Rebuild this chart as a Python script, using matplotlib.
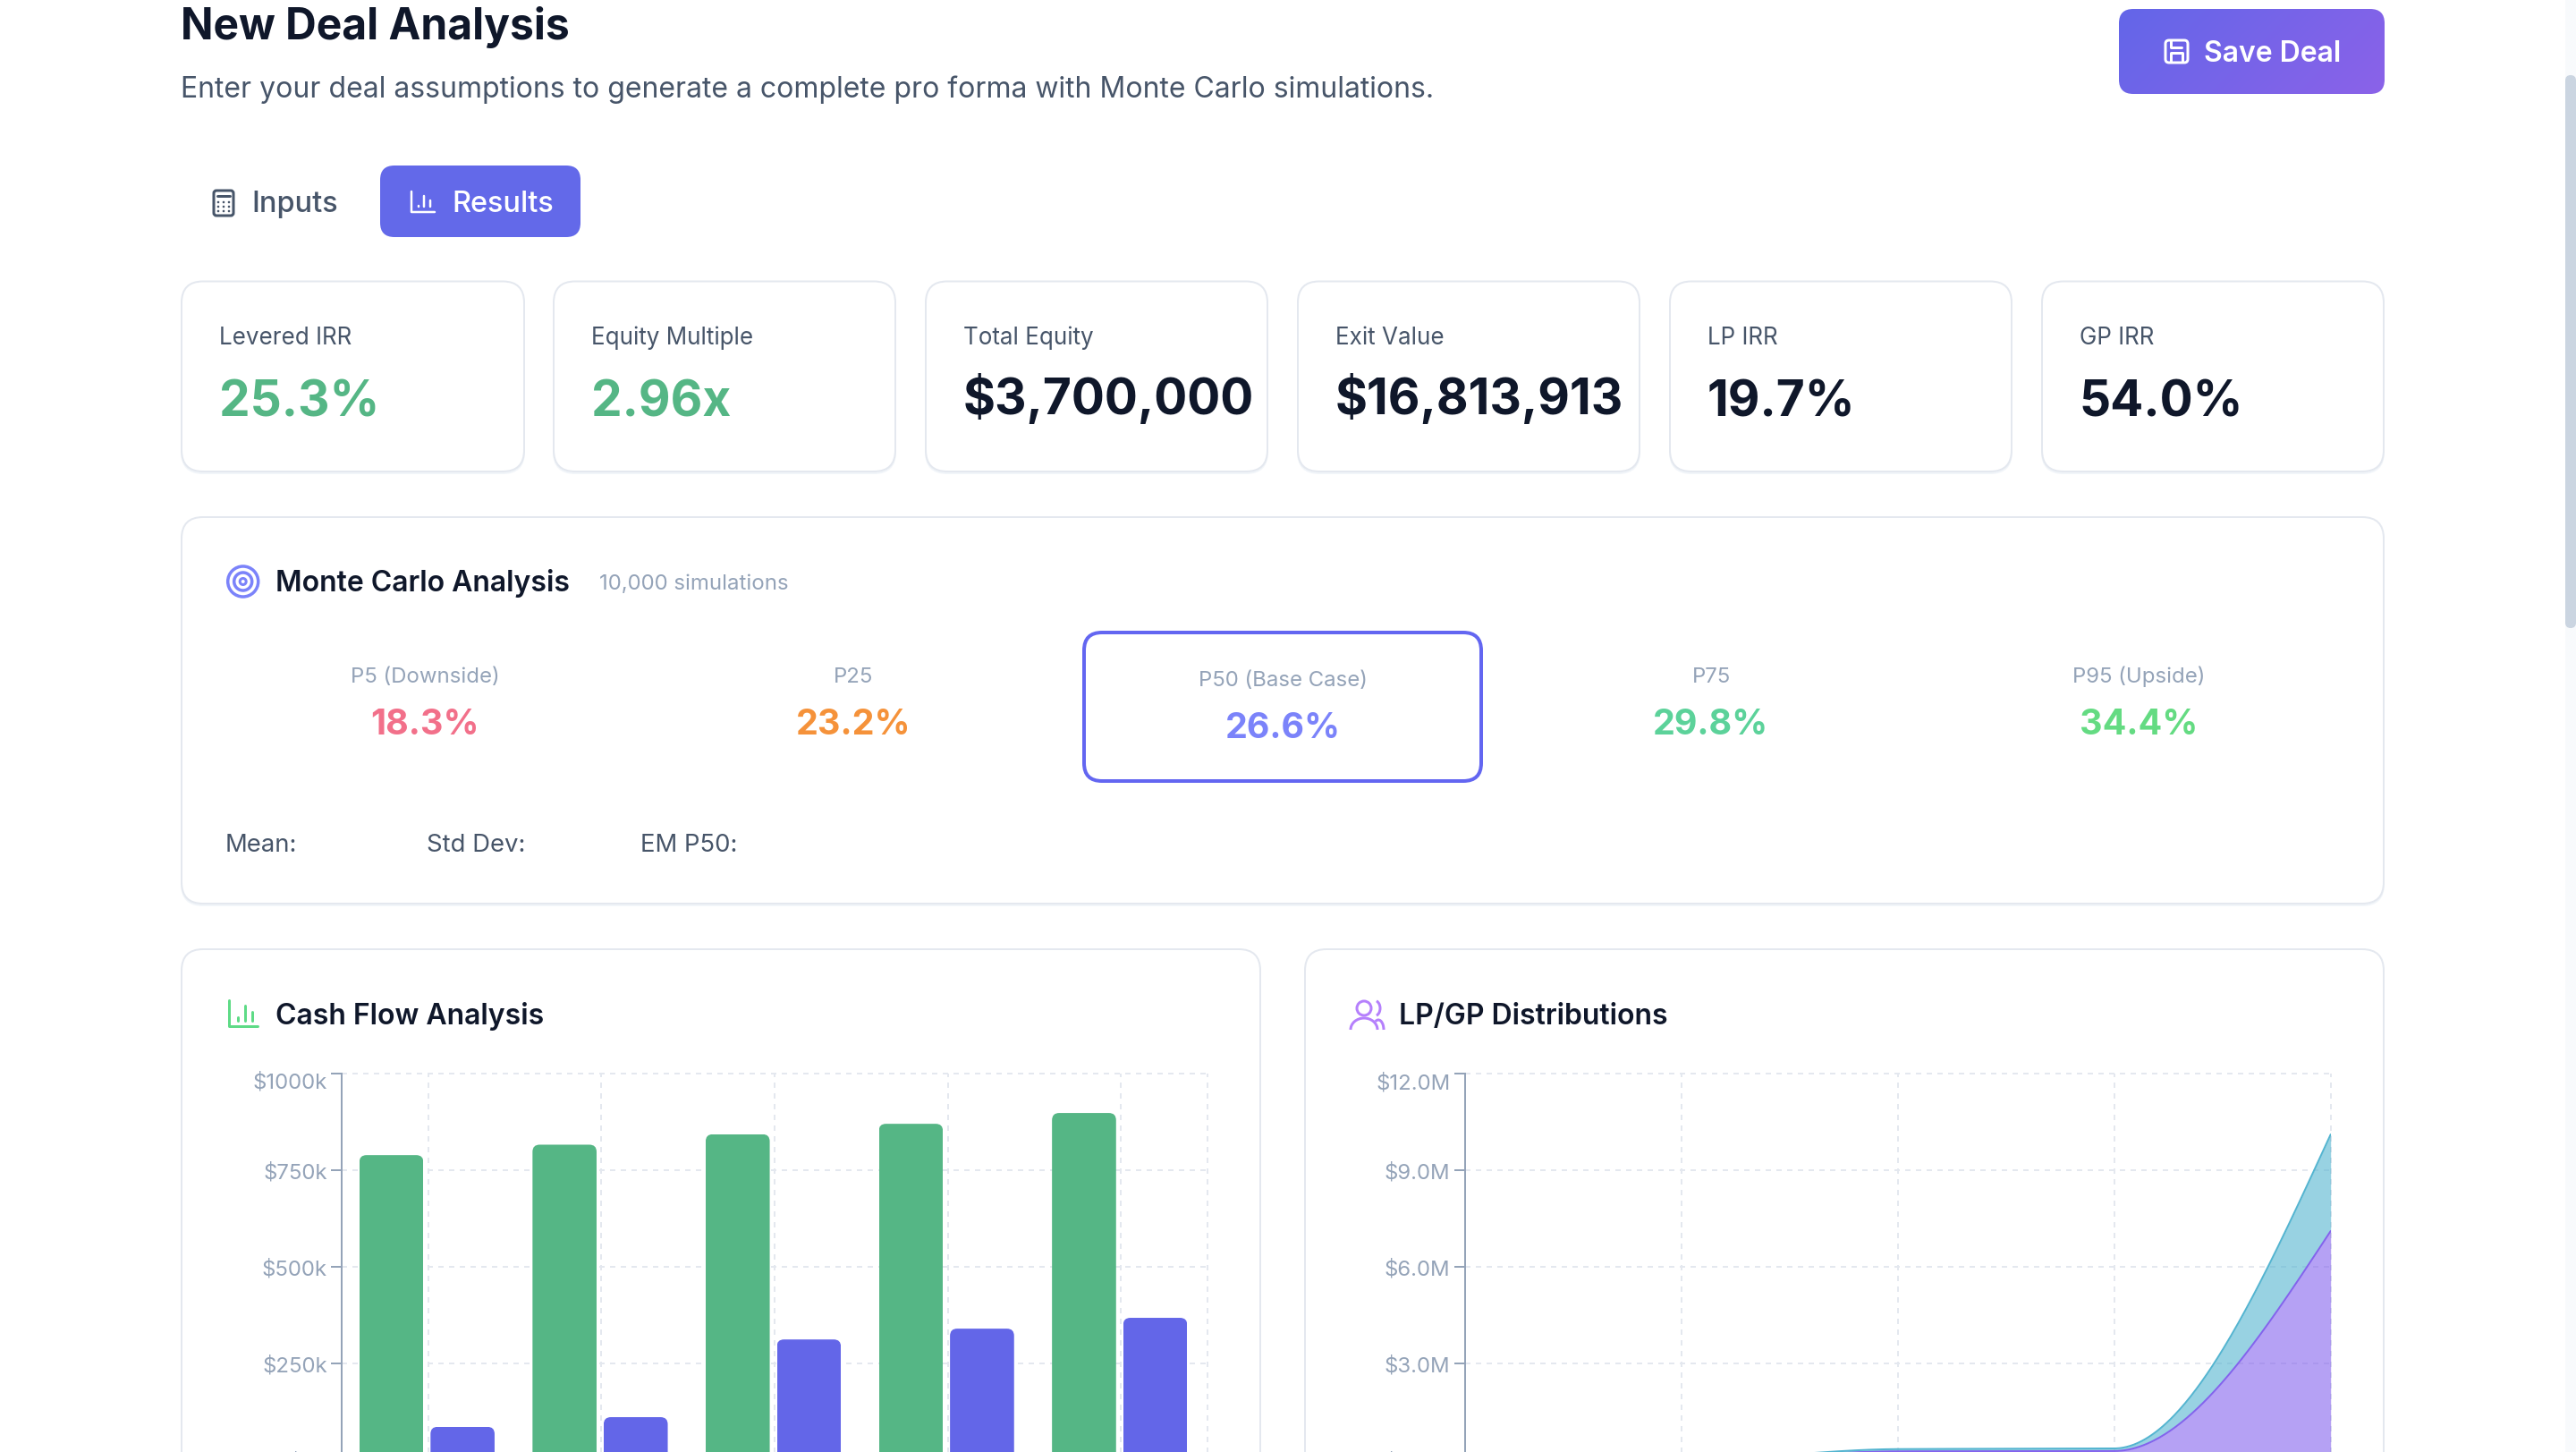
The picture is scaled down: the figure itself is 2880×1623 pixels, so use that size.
import numpy as np
import matplotlib
matplotlib.use('Agg')
import matplotlib.pyplot as plt
from matplotlib.patches import FancyBboxPatch, Circle, Rectangle, Arc
from matplotlib.path import Path
from matplotlib.transforms import ScaledTranslation

plt.rcParams['font.family'] = ['Inter', 'DejaVu Sans']
plt.rcParams['lines.scale_dashes'] = False
plt.rcParams['lines.solid_capstyle'] = 'round'

# kpi cards
kpi_labels = ['Levered IRR', 'Equity Multiple', 'Total Equity', 'Exit Value', 'LP IRR', 'GP IRR']
kpi_values = ['25.3%', '2.96x', '$3,700,000', '$16,813,913', '19.7%', '54.0%']
kpi_colors = ['#55b685', '#55b685', '#0f172a', '#0f172a', '#0f172a', '#0f172a']

# monte carlo
mc_labels = ['P5 (Downside)', 'P25', 'P50 (Base Case)', 'P75', 'P95 (Upside)']
mc_values = ['18.3%', '23.2%', '26.6%', '29.8%', '34.4%']
mc_colors = ['#f2708a', '#f5923a', '#7b83fa', '#5cd29a', '#64db82']
mc_stats = ['Mean:', 'Std Dev:', 'EM P50:']

# cash flow chart, $k
years = [1, 2, 3, 4, 5]
noi = [789, 816, 843, 870, 898]
cash_flow = [86, 111, 312, 340, 368]
cf_ticks = [0, 250, 500, 750, 1000]
cf_tick_labels = ['$0k', '$250k', '$500k', '$750k', '$1000k']

# lp/gp chart, $M
dist_years = [0, 1, 2, 3, 4]
lp_dist = [0, 0, 0.27, 0.28, 7.11]
gp_dist = [0, 0, 0.07, 0.08, 3.0]
dist_ticks = [0, 3, 6, 9, 12]
dist_tick_labels = ['$0.0M', '$3.0M', '$6.0M', '$9.0M', '$12.0M']

W, H = 2880, 1624
PT = 0.72  # px to pt at dpi 100
SLATE = '#94a3b8'
DARK = '#0f172a'
MID = '#475569'
BORDER = '#e4e8ef'
INDIGO = '#6369e9'

fig = plt.figure(figsize=(W / 100, H / 100), dpi=100, facecolor='white')
page = fig.add_axes([0, 0, 1, 1], zorder=0)
page.set_xlim(0, W)
page.set_ylim(H, 0)
page.axis('off')


def txt(x, y, s, px, color, weight='normal', ha='left'):
    page.text(x, y, s, fontsize=px * PT, color=color, fontweight=weight, ha=ha, va='baseline')


def box(x0, y0, x1, y1, r, fc='white', ec=BORDER, lw=2, z=1):
    p = FancyBboxPatch((x0, y0), x1 - x0, y1 - y0, boxstyle=f'round,pad=0,rounding_size={r}',
                       fc=fc, ec=ec, lw=lw * PT, zorder=z)
    page.add_patch(p)
    return p


def card(x0, y0, x1, y1):
    # faint shadow then the card
    box(x0, y0 + 2, x1, y1 + 2, 24, fc='#f1f5f9', ec='#f1f5f9', lw=2, z=1)
    box(x0, y0, x1, y1, 24, z=2)


def line(xs, ys, color, lw=3, z=5):
    page.plot(xs, ys, color=color, lw=lw * PT, zorder=z)


def bar_icon(x0, y0, x1, y1, color, lw=3):
    line([x0, x0, x1, x1], [y0, y1 - 3, y1 - 3, y1 - 3], color, lw)
    w = x1 - x0
    for f, top in zip([0.3, 0.55, 0.8], [0.6, 0.2, 0.4]):
        line([x0 + f * w] * 2, [y0 + top * (y1 - y0), y1 - 9], color, lw)


# scrollbar
page.add_patch(Rectangle((2868, 0), 12, H, fc='#f8fafc', ec='none', zorder=1))
box(2868, 85, 2880, 703, 6, fc='#cbd5e1', ec='none', lw=0)

# header
txt(202, 44, 'New Deal Analysis', 48, DARK, 'bold')
txt(202, 109, 'Enter your deal assumptions to generate a complete pro forma with Monte Carlo simulations.', 32, MID)

# save button with gradient
btn = box(2369, 11, 2666, 106, 16, fc='none', ec='none', lw=0)
gx, gy = np.meshgrid(np.linspace(0, 1, 300), np.linspace(0, 1, 100))
g = (gx * 297 + gy * 96) / (297 + 96)
c0, c1 = np.array([0x63, 0x66, 0xe8]) / 255, np.array([0x8b, 0x62, 0xe9]) / 255
im = page.imshow(c0 + (c1 - c0) * g[..., None], extent=(2369, 2666, 106, 11), aspect='auto', zorder=3)
im.set_clip_path(btn)
page.set_xlim(0, W)
page.set_ylim(H, 0)
txt(2464.5, 69, 'Save Deal', 32, 'white', 600)
box(2421, 46, 2446, 71, 4, fc='none', ec='white', lw=3, z=5)
line([2427, 2427, 2439], [46, 54, 54], 'white', 3)
line([2427, 2427, 2440, 2440], [70, 60, 60, 70], 'white', 3)

# tabs
box(425, 186, 649, 266, 16, fc=INDIGO, ec='none', lw=0)
txt(281, 237, 'Inputs', 32.5, MID, 500)
txt(505, 237, 'Results', 32.5, 'white', 500)
box(239, 214, 261, 242, 3, fc='none', ec=MID, lw=3, z=5)
line([243, 257], [220, 220], MID, 3)
for yy in (227, 232, 237):
    for xx in (244, 250, 256):
        page.add_patch(Circle((xx, yy), 1.3, fc=MID, ec='none', zorder=5))
bar_icon(460, 215, 486, 241, 'white', 2.5)

# kpi row
kpi_x = [(203, 586), (619, 1001), (1035, 1417), (1451, 1833), (1867, 2249), (2283, 2665)]
for (x0, x1), lab, val, col in zip(kpi_x, kpi_labels, kpi_values, kpi_colors):
    card(x0, 315.5, x1, 528)
    txt(x0 + 42, 385, lab, 26, MID)
    base = 463 if val.startswith('$') else 465
    txt(x0 + 42, base, val, 55, col, 'bold')

# monte carlo panel
card(203, 579, 2665, 1011)
for r, lw in ((17, 3.5), (10, 3.5), (3.5, 3)):
    page.add_patch(Circle((271.7, 651), r, fc='none', ec='#7b83fa', lw=lw * PT, zorder=5))
txt(308, 661.5, 'Monte Carlo Analysis', 32, DARK, 600)
txt(670, 659, '10,000 simulations', 24, SLATE)
box(1212, 708, 1656, 874, 20, ec='#6366f1', lw=4, z=3)
mc_x = [475, 954, 1434, 1913, 2391]
for i, (cx, lab, val, col) in enumerate(zip(mc_x, mc_labels, mc_values, mc_colors)):
    off = 4 if i == 2 else 0
    txt(cx, 763 + off, lab, 24, SLATE, ha='center')
    txt(cx, 821 + off, val, 39.5, col, 700, ha='center')
for x, s in zip([252, 477, 716], mc_stats):
    txt(x, 952, s, 27.5, MID)

# chart cards run off the bottom of the screenshot
card(203, 1062, 1409, 1720)
card(1459, 1062, 2665, 1720)
bar_icon(256, 1119, 288, 1151, '#5edb86')
txt(308, 1145, 'Cash Flow Analysis', 32, DARK, 600)
txt(1564, 1145, 'LP/GP Distributions', 32, DARK, 600)
ICON = '#b580fc'
page.add_patch(Circle((1525, 1128), 8, fc='none', ec=ICON, lw=3 * PT, zorder=5))
page.add_patch(Arc((1525, 1152), 30, 26, theta1=180, theta2=360, ec=ICON, lw=3 * PT, zorder=5))
page.add_patch(Arc((1536, 1128), 14, 18, theta1=-70, theta2=70, ec=ICON, lw=3 * PT, zorder=5))
page.add_patch(Arc((1541, 1152), 12, 22, theta1=250, theta2=360, ec=ICON, lw=3 * PT, zorder=5))


def chart_axes(x0, x1, y_top=1201, y_bot=1633):
    ax = fig.add_axes([x0 / W, (H - y_bot) / H, (x1 - x0) / W, (y_bot - y_top) / H], zorder=5)
    ax.patch.set_visible(False)
    for s in ('top', 'right', 'bottom'):
        ax.spines[s].set_visible(False)
    ax.spines['left'].set_color(SLATE)
    ax.spines['left'].set_linewidth(2 * PT)
    ax.set_axisbelow(True)
    ax.tick_params(axis='y', length=12 * PT, width=2 * PT, color=SLATE, pad=4 * PT,
                   labelsize=24 * PT, labelcolor=SLATE)
    ax.tick_params(axis='x', length=0, labelbottom=False)
    ax.grid(True, color=BORDER, lw=2 * PT, linestyle=(0, (6 * PT, 6 * PT)))
    return ax


def finish_grid(ax):
    for l in ax.get_xgridlines() + ax.get_ygridlines():
        l.set_clip_on(False)
    # top label sits under its tick
    top = ax.get_yticklabels()[-1]
    top.set_verticalalignment('top')
    top.set_transform(top.get_transform() + ScaledTranslation(0, 0.015, fig.dpi_scale_trans))


def round_tops(ax, bars, rx, ry):
    for b in bars:
        x, w, h = b.get_x(), b.get_width(), b.get_height()
        verts = [(x, 0), (x, h - ry), (x, h), (x + rx, h), (x + w - rx, h), (x + w, h),
                 (x + w, h - ry), (x + w, 0), (x, 0)]
        codes = [Path.MOVETO, Path.LINETO, Path.CURVE3, Path.CURVE3, Path.LINETO,
                 Path.CURVE3, Path.CURVE3, Path.LINETO, Path.CLOSEPOLY]
        b.set_clip_path(Path(verts, codes), ax.transData)


# cash flow bars
ax1 = chart_axes(382, 1350)
xpos = np.arange(len(years))
bw = 0.37
b1 = ax1.bar(xpos - 0.398, noi, bw, align='edge', color='#55b685')
b2 = ax1.bar(xpos + 0.013, cash_flow, bw, align='edge', color='#6366e8')
ax1.set_xlim(-0.5, 4.5)
ax1.set_ylim(0, 1000)
ax1.set_xticks(list(xpos) + [4.5])
ax1.set_yticks(cf_ticks, cf_tick_labels)
round_tops(ax1, b1, 8 / 193.6, 18.5)
round_tops(ax1, b2, 8 / 193.6, 18.5)
finish_grid(ax1)


def monotone(xs, ys, n=120):
    # same curve as d3 monotoneX
    xs, ys = np.asarray(xs, float), np.asarray(ys, float)
    s = np.diff(ys) / np.diff(xs)
    t = np.zeros(len(xs))
    for i in range(1, len(xs) - 1):
        if s[i - 1] * s[i] > 0:
            t[i] = np.sign(s[i]) * min(abs(s[i - 1]), abs(s[i]), 0.5 * abs((s[i - 1] + s[i]) / 2)) * 2
    t[0] = (3 * s[0] - t[1]) / 2
    t[-1] = (3 * s[-1] - t[-2]) / 2
    out_x, out_y = [], []
    for i in range(len(xs) - 1):
        u = np.linspace(0, 1, n)
        h = xs[i + 1] - xs[i]
        out_x.append(xs[i] + u * h)
        out_y.append((2 * u**3 - 3 * u**2 + 1) * ys[i] + (u**3 - 2 * u**2 + u) * h * t[i]
                     + (-2 * u**3 + 3 * u**2) * ys[i + 1] + (u**3 - u**2) * h * t[i + 1])
    return np.concatenate(out_x), np.concatenate(out_y)


# lp/gp stacked areas
ax2 = chart_axes(1637.6, 2605.7)
lx, ly = monotone(dist_years, lp_dist)
tx, ty = monotone(dist_years, np.add(lp_dist, gp_dist))
TEAL, PURPLE = '#53b4d0', '#8462ed'
ax2.fill_between(lx, 0, ly, color=PURPLE, alpha=0.6, lw=0)
ax2.fill_between(tx, ly, ty, color=TEAL, alpha=0.6, lw=0)
ax2.plot(lx, ly, color=PURPLE, lw=2 * PT)
ax2.plot(tx, ty, color=TEAL, lw=2 * PT)
ax2.set_xlim(0, 4)
ax2.set_ylim(0, 12)
ax2.set_xticks(dist_years)
ax2.set_yticks(dist_ticks, dist_tick_labels)
finish_grid(ax2)

fig.savefig('out.png', dpi=100, facecolor='white')
